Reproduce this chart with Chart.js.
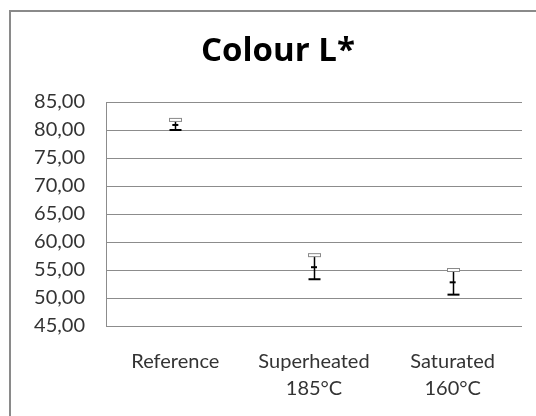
<!DOCTYPE html>
<html>
<head>
<meta charset="utf-8">
<script src="https://cdn.jsdelivr.net/npm/chart.js@4"></script>
<style>
  html, body { margin: 0; padding: 0; background: #fff; overflow: hidden; }
  #wrap { position: relative; width: 536px; height: 416px; }
  #frame { position: absolute; left: 9px; top: 10px; width: 600px; height: 500px; border: 2px solid #8a8a8a; }
  #colourChart { position: absolute; left: 0; top: 0; }
</style>
</head>
<body>
<div id="wrap">
  <div id="frame"></div>
  <canvas id="colourChart" width="536" height="416"></canvas>
</div>
<script>
const categories = ['Reference', ['Superheated', '185°C'], ['Saturated', '160°C']];
const meanL = [80.9, 55.5, 52.8];
const errorL = [0.9, 2.15, 2.2];
const yTicks = [45, 50, 55, 60, 65, 70, 75, 80, 85];

// draws the +/- error bars on top of the mean markers
const errorBars = {
  id: 'errorBars',
  afterDatasetsDraw(chart) {
    const ctx = chart.ctx;
    const x = chart.scales.x;
    const y = chart.scales.y;
    ctx.save();
    meanL.forEach((m, i) => {
      const px = Math.round(x.getPixelForValue(i)) + 0.5;
      const top = y.getPixelForValue(m + errorL[i]);
      const bot = y.getPixelForValue(m - errorL[i]);
      ctx.strokeStyle = '#000';
      ctx.lineWidth = 1.5;
      ctx.beginPath();
      ctx.moveTo(px, top);
      ctx.lineTo(px, bot);
      ctx.stroke();
      // upper cap
      ctx.fillStyle = '#fff';
      ctx.strokeStyle = '#8a8a8a';
      ctx.lineWidth = 1;
      ctx.fillRect(px - 6, top - 1.5, 12, 3);
      ctx.strokeRect(px - 6, top - 1.5, 12, 3);
      // lower cap
      ctx.strokeStyle = '#000';
      ctx.lineWidth = 2;
      ctx.beginPath();
      ctx.moveTo(px - 6, bot);
      ctx.lineTo(px + 6, bot);
      ctx.stroke();
    });
    ctx.restore();
  }
};

new Chart(document.getElementById('colourChart'), {
  type: 'line',
  data: {
    labels: categories,
    datasets: [{
      data: meanL,
      showLine: false,
      pointStyle: 'line',
      pointRadius: 3,
      pointBorderWidth: 2,
      pointBorderColor: '#000',
      pointBackgroundColor: '#000'
    }]
  },
  options: {
    responsive: false,
    animation: false,
    layout: { padding: { left: 34, right: 14, top: 0, bottom: 0 } },
    plugins: {
      legend: { display: false },
      tooltip: { enabled: false },
      title: {
        display: true,
        text: 'Colour L*',
        color: '#000',
        font: { family: 'Open Sans', size: 33, weight: 'bold', lineHeight: 1.2 },
        padding: { top: 32, bottom: 30.4 }
      }
    },
    scales: {
      x: {
        offset: true,
        afterFit(scale) { scale.height = 90; },
        grid: { display: false, drawTicks: false },
        border: { display: false },
        ticks: {
          color: '#333',
          padding: 22,
          maxRotation: 0,
          font: { family: 'Lato', size: 20, lineHeight: '27px' }
        }
      },
      y: {
        min: 45,
        max: 85,
        afterFit(scale) { scale.width = 72; },
        afterBuildTicks(scale) { scale.ticks = yTicks.map(v => ({ value: v })); },
        grid: { color: '#8c8c8c', drawTicks: false },
        border: { display: true, color: '#8c8c8c' },
        ticks: {
          color: '#333',
          padding: 21,
          font: { family: 'Lato', size: 20 },
          callback: v => v.toFixed(2).replace('.', ',')
        }
      }
    }
  },
  plugins: [errorBars]
});
</script>
</body>
</html>
